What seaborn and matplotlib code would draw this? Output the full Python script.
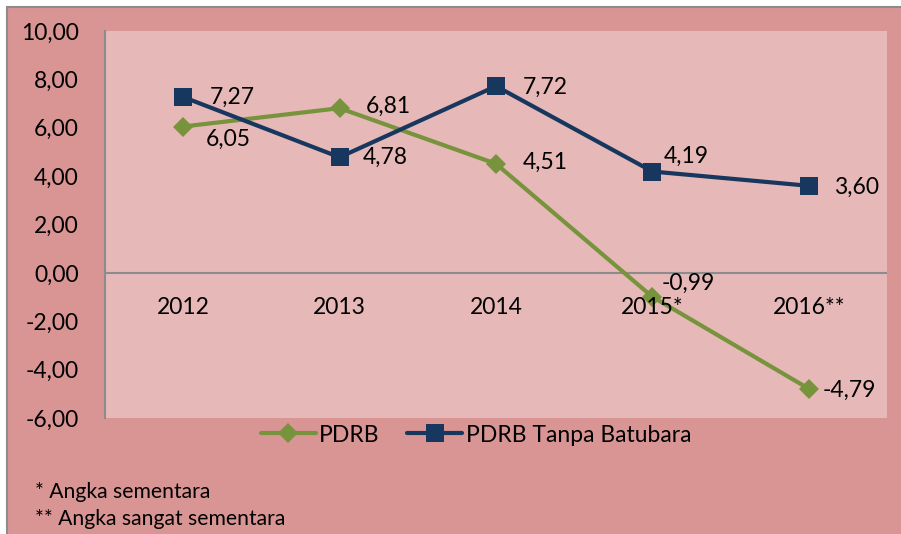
import matplotlib
matplotlib.use("Agg")
import matplotlib.pyplot as plt
import seaborn as sns
import pandas as pd
from matplotlib.patches import Rectangle
from matplotlib.lines import Line2D

categories = ["2012", "2013", "2014", "2015*", "2016**"]
pdrb = [6.05, 6.81, 4.51, -0.99, -4.79]
pdrb_tanpa = [7.27, 4.78, 7.72, 4.19, 3.60]
series_names = ["PDRB", "PDRB Tanpa Batubara"]
yticks = [-6, -4, -2, 0, 2, 4, 6, 8, 10]
footnotes = ["* Angka sementara", "** Angka sangat sementara"]

sns.set_theme(style="white")
plt.rcParams["font.family"] = ["Lato", "DejaVu Sans"]
plt.rcParams["text.color"] = "black"
plt.rcParams["ytick.color"] = "black"
plt.rcParams["ytick.labelcolor"] = "black"

GREEN = "#77933C"
NAVY = "#17375E"
OUTER = "#D99594"
INNER = "#E6B8B7"
FS = 16.5

fig = plt.figure(figsize=(9.01, 5.34), dpi=100)
fig.patch.set_facecolor("white")
bg = Rectangle((7 / 901, -0.01), 1.05, (534 - 6.5) / 534 + 0.01, transform=fig.transFigure,
               facecolor=OUTER, edgecolor="#8C8C8C", linewidth=1.5, zorder=-10)
fig.add_artist(bg)

ax = fig.add_axes([105 / 901, (534 - 418) / 534, 782 / 901, 387 / 534])
ax.set_zorder(1)
ax.set_facecolor(INNER)

df = pd.DataFrame({
    "x": list(range(len(categories))) * 2,
    "y": pdrb + pdrb_tanpa,
    "series": [series_names[0]] * len(categories) + [series_names[1]] * len(categories),
})
sns.lineplot(data=df, x="x", y="y", hue="series", style="series",
             palette={series_names[0]: GREEN, series_names[1]: NAVY},
             markers={series_names[0]: "D", series_names[1]: "s"},
             dashes={series_names[0]: "", series_names[1]: ""},
             linewidth=3, markersize=13, markeredgewidth=0, ax=ax, legend=False, zorder=3)
for line in ax.lines:
    if line.get_marker() == "D":
        line.set_markersize(10)

ax.set_xlim(-0.5, len(categories) - 0.5)
ax.set_ylim(-6, 10)
ax.set_yticks(yticks)
ax.set_yticklabels([f"{v:.2f}".replace(".", ",") for v in yticks], fontsize=FS, color="black")
ax.tick_params(axis="y", length=0, pad=19)
ax.set_xticks([])
ax.set_xlabel("")
ax.set_ylabel("")
for s in ["top", "right", "bottom"]:
    ax.spines[s].set_visible(False)
ax.spines["left"].set_color("#8C8C8C")
ax.spines["left"].set_linewidth(1.5)
ax.axhline(0, color="#8C8C8C", linewidth=1.5, zorder=2)

for i, c in enumerate(categories):
    ax.text(i, -1.42, c, ha="center", va="center", fontsize=FS, color="black")

def fmt(v):
    return f"{v:.2f}".replace(".", ",")

off_pdrb = [(16, -9), (19, 1), (19, 1), (7, 10), (10, -1)]
off_tanpa = [(19, 0), (17, 0), (19, -1), (8, 11), (18, -1)]
for i, v in enumerate(pdrb):
    ax.annotate(fmt(v), (i, v), xytext=off_pdrb[i], textcoords="offset points",
                ha="left", va="center", fontsize=FS, color="black", zorder=5)
for i, v in enumerate(pdrb_tanpa):
    ax.annotate(fmt(v), (i, v), xytext=off_tanpa[i], textcoords="offset points",
                ha="left", va="center", fontsize=FS, color="black", zorder=5)

handles = [Line2D([], [], color=GREEN, lw=3, marker="D", markersize=10, markeredgewidth=0),
           Line2D([], [], color=NAVY, lw=3, marker="s", markersize=13, markeredgewidth=0)]
fig.legend(handles, series_names, loc="center", bbox_to_anchor=(476 / 901, (534 - 435) / 534),
           ncol=2, frameon=False, fontsize=FS, handlelength=2.4, handletextpad=0.15,
           columnspacing=1.2, labelcolor="black")

fig.text(35 / 901, (534 - 492) / 534, footnotes[0], fontsize=15.2, va="center", ha="left", color="black")
fig.text(35 / 901, (534 - 519) / 534, footnotes[1], fontsize=15.2, va="center", ha="left", color="black")

fig.savefig("out.png", dpi=100, facecolor=fig.get_facecolor())
